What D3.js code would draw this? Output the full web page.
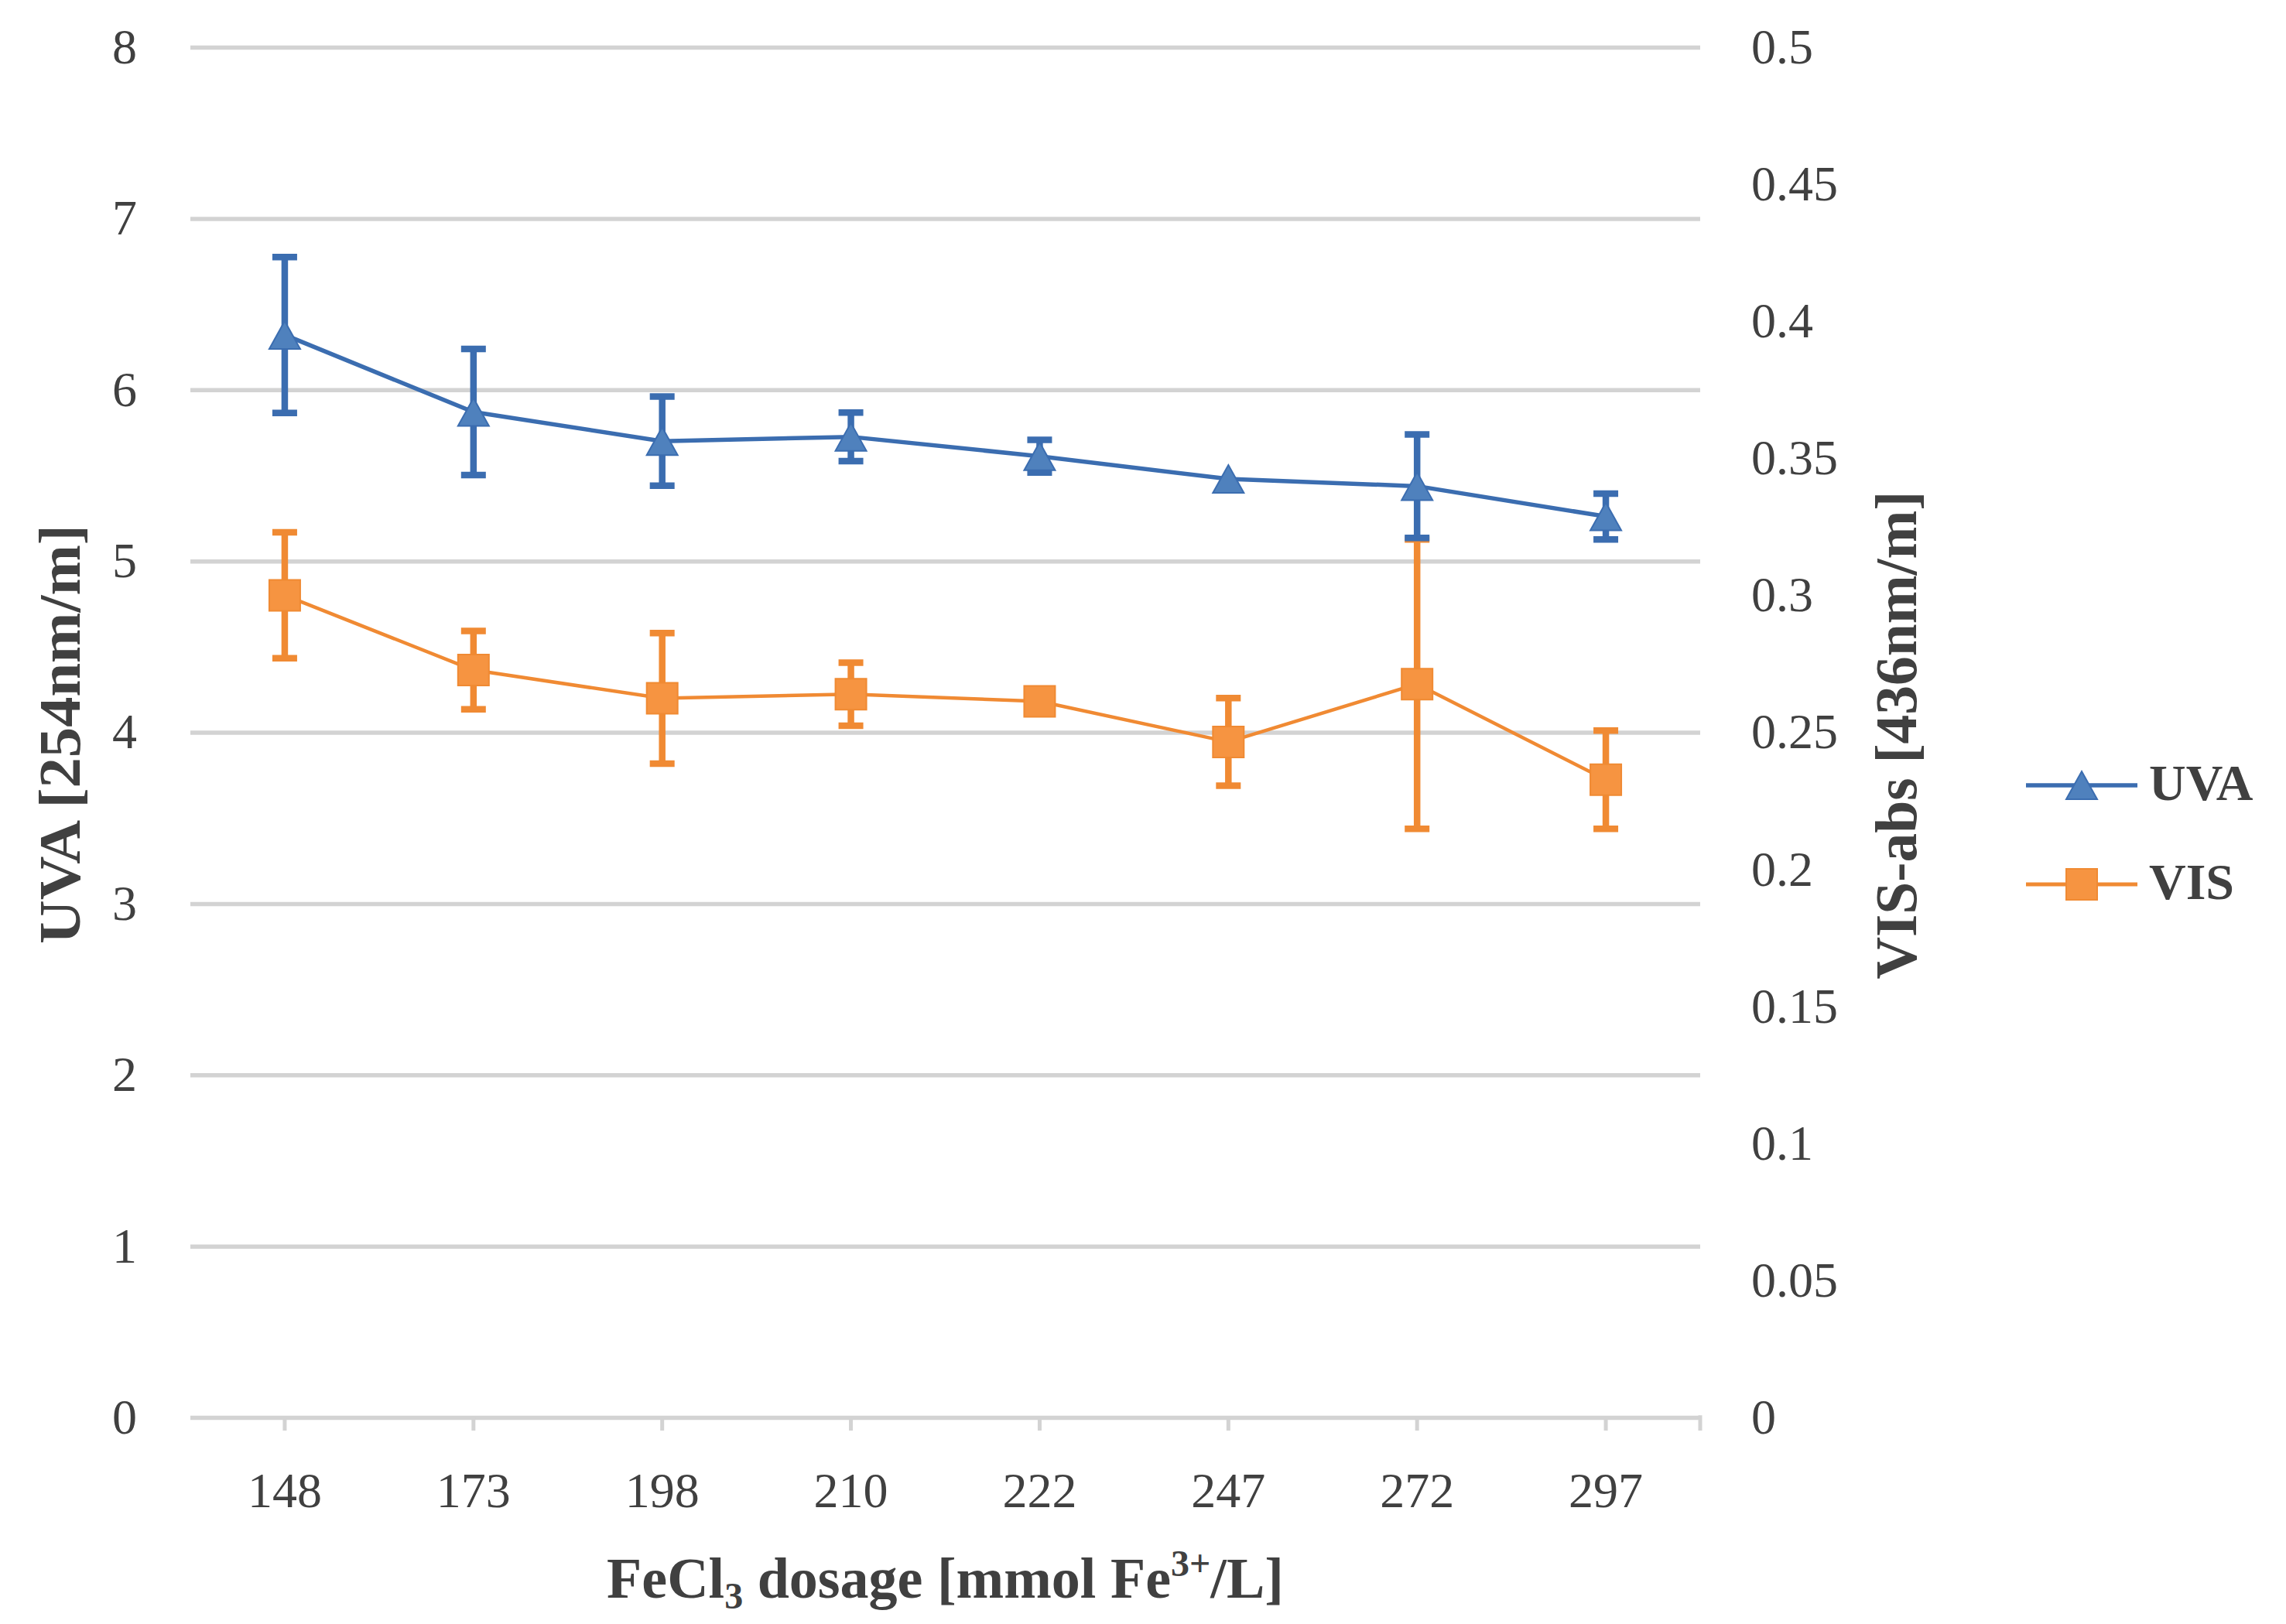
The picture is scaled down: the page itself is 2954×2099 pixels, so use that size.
<!DOCTYPE html>
<html>
<head>
<meta charset="utf-8">
<script src="https://cdn.jsdelivr.net/npm/d3@7"></script>
<style>
  html, body { margin: 0; padding: 0; background: #ffffff; }
  svg { display: block; }
</style>
</head>
<body>
<div id="chart"></div>
<script>
// ---------------- data ----------------
const categories = ["148", "173", "198", "210", "222", "247", "272", "297"];
const uvaValues  = [6.32, 5.87, 5.70, 5.725, 5.612, 5.479, 5.437, 5.26];
const uvaErrors  = [0.455, 0.368, 0.26, 0.142, 0.095, 0.0, 0.302, 0.134];
const visValues  = [0.300, 0.2727, 0.2624, 0.2639, 0.2613, 0.2465, 0.2676, 0.2327];
const visErrors  = [0.023, 0.0143, 0.0238, 0.0115, 0.004, 0.016, 0.0528, 0.0179];
const leftTicks  = [0, 1, 2, 3, 4, 5, 6, 7, 8];
const rightTicks = [0, 0.05, 0.1, 0.15, 0.2, 0.25, 0.3, 0.35, 0.4, 0.45, 0.5];
const rightTickLabels = ["0", "0.05", "0.1", "0.15", "0.2", "0.25", "0.3", "0.35", "0.4", "0.45", "0.5"];
const seriesNames = ["UVA", "VIS"];
const leftTitle = "UVA [254nm/m]";
const rightTitle = "VIS-abs [436nm/m]";

// ---------------- layout ----------------
const W = 2954, H = 2099;
const plot = { left: 246, right: 2197, top: 61, bottom: 1832 };
const FONT = "'Liberation Serif', 'Times New Roman', serif";
const TXT = "#404040";
const GRID = "#d3d3d3";
const BLUE_LINE = "#3b6db0", BLUE_FILL = "#4f81bd";
const ORANGE_LINE = "#f08a33", ORANGE_FILL = "#f69441";

const svg = d3.select("#chart").append("svg")
  .attr("width", W).attr("height", H)
  .style("background", "#ffffff");

const x = d3.scaleBand().domain(categories).range([plot.left, plot.right]).padding(0);
const cx = c => x(c) + x.bandwidth() / 2;
const yL = d3.scaleLinear().domain([0, 8]).range([plot.bottom, plot.top]);
const yR = d3.scaleLinear().domain([0, 0.5]).range([plot.bottom, plot.top]);

// gridlines
const grid = svg.append("g").attr("transform", `translate(${plot.left},0)`)
  .call(d3.axisLeft(yL).tickValues(leftTicks).tickSize(-(plot.right - plot.left)).tickFormat(""));
grid.select(".domain").remove();
grid.selectAll(".tick line").attr("stroke", GRID).attr("stroke-width", 5.5);

// left labels
const gl = svg.append("g").attr("transform", `translate(177,0)`)
  .call(d3.axisLeft(yL).tickValues(leftTicks).tickSize(0).tickPadding(0).tickFormat(d3.format("d")));
gl.select(".domain").remove();
gl.selectAll("text").attr("font-family", FONT).attr("font-size", 64).attr("fill", TXT);

// right labels
const gr = svg.append("g").attr("transform", `translate(2263,0)`)
  .call(d3.axisRight(yR).tickValues(rightTicks).tickSize(0).tickPadding(0)
    .tickFormat((d, i) => rightTickLabels[i]));
gr.select(".domain").remove();
gr.selectAll("text").attr("font-family", FONT).attr("font-size", 64).attr("fill", TXT);

// x axis
const gx = svg.append("g").attr("transform", `translate(0,${plot.bottom})`)
  .call(d3.axisBottom(x).tickSize(17).tickPadding(54));
gx.select(".domain").remove();
gx.selectAll(".tick line").attr("stroke", GRID).attr("stroke-width", 5);
gx.selectAll("text").attr("font-family", FONT).attr("font-size", 64).attr("fill", TXT);
gx.append("line")
  .attr("x1", x.range()[1]).attr("x2", x.range()[1])
  .attr("y1", -2.75).attr("y2", 17)
  .attr("stroke", GRID).attr("stroke-width", 5);

// ---------------- series ----------------
function drawSeries(values, errors, yScale, lineColor, fillColor, lineWidth, markerFn) {
  const pts = categories.map((c, i) => ({ c, v: values[i], e: errors[i] }));
  const g = svg.append("g");
  g.append("path")
    .attr("d", d3.line().x(d => cx(d.c)).y(d => yScale(d.v))(pts))
    .attr("fill", "none").attr("stroke", lineColor).attr("stroke-width", lineWidth)
    .attr("stroke-linejoin", "round");
  const eb = g.selectAll(".err").data(pts.filter(d => d.e > 0)).enter().append("g");
  eb.append("line")
    .attr("x1", d => cx(d.c)).attr("x2", d => cx(d.c))
    .attr("y1", d => yScale(d.v - d.e)).attr("y2", d => yScale(d.v + d.e))
    .attr("stroke", lineColor).attr("stroke-width", 8.5);
  [1, -1].forEach(s => {
    eb.append("line")
      .attr("x1", d => cx(d.c) - 16).attr("x2", d => cx(d.c) + 16)
      .attr("y1", d => yScale(d.v + s * d.e)).attr("y2", d => yScale(d.v + s * d.e))
      .attr("stroke", lineColor).attr("stroke-width", 8.5);
  });
  g.selectAll(".mk").data(pts).enter().append("path")
    .attr("transform", d => `translate(${cx(d.c)},${yScale(d.v)})`)
    .attr("d", markerFn)
    .attr("fill", fillColor).attr("stroke", lineColor).attr("stroke-width", 2);
}
const triangle = () => "M0,-18L20,18L-20,18Z";
const square = () => "M-20,-20H20V20H-20Z";

drawSeries(visValues, visErrors, yR, ORANGE_LINE, ORANGE_FILL, 4.5, square);
drawSeries(uvaValues, uvaErrors, yL, BLUE_LINE, BLUE_FILL, 5.5, triangle);

// ---------------- axis titles ----------------
svg.append("text")
  .attr("transform", `translate(103,949) rotate(-90)`)
  .attr("text-anchor", "middle")
  .attr("font-family", FONT).attr("font-weight", "bold").attr("font-size", 77)
  .attr("fill", TXT)
  .attr("textLength", 542).attr("lengthAdjust", "spacingAndGlyphs")
  .text(leftTitle);

svg.append("text")
  .attr("transform", `translate(2476,950) rotate(-90)`)
  .attr("text-anchor", "middle")
  .attr("font-family", FONT).attr("font-weight", "bold").attr("font-size", 77)
  .attr("fill", TXT)
  .attr("textLength", 631).attr("lengthAdjust", "spacingAndGlyphs")
  .text(rightTitle);

const xt = svg.append("text")
  .attr("x", (plot.left + plot.right) / 2).attr("y", 2065)
  .attr("text-anchor", "middle")
  .attr("font-family", FONT).attr("font-weight", "bold").attr("font-size", 74)
  .attr("fill", TXT);
xt.append("tspan").text("FeCl");
xt.append("tspan").attr("font-size", 48).attr("dy", 14).text("3");
xt.append("tspan").attr("dy", -14).text(" dosage [mmol Fe");
xt.append("tspan").attr("font-size", 48).attr("dy", -28).text("3+");
xt.append("tspan").attr("dy", 28).text("/L]");

// ---------------- legend ----------------
const legendItems = [
  { name: seriesNames[0], y: 1015, line: BLUE_LINE, fill: BLUE_FILL, lw: 5.5, marker: triangle },
  { name: seriesNames[1], y: 1143, line: ORANGE_LINE, fill: ORANGE_FILL, lw: 5, marker: square }
];
const lg = svg.append("g").selectAll("g").data(legendItems).enter().append("g");
lg.append("line")
  .attr("x1", 2618).attr("x2", 2762).attr("y1", d => d.y).attr("y2", d => d.y)
  .attr("stroke", d => d.line).attr("stroke-width", d => d.lw);
lg.append("path")
  .attr("transform", d => `translate(2690,${d.y})`)
  .attr("d", d => d.marker())
  .attr("fill", d => d.fill).attr("stroke", d => d.line).attr("stroke-width", 2);
lg.append("text")
  .attr("x", 2777).attr("y", d => d.y + 19)
  .attr("font-family", FONT).attr("font-weight", "bold").attr("font-size", 66)
  .attr("fill", TXT)
  .text(d => d.name);
</script>
</body>
</html>
